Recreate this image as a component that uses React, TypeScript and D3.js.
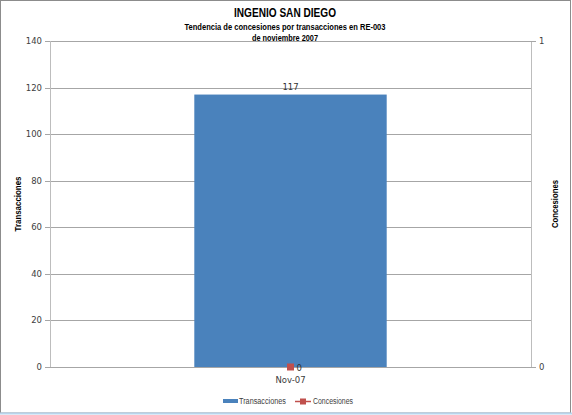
import React from 'react'
import { scaleBand, scaleLinear } from 'd3'

const categories = ['Nov-07']
const transacciones = [117]
const concesiones = [0]
const leftTicks = [0, 20, 40, 60, 80, 100, 120, 140]
const rightTicks = [0, 1]

const W = 572
const H = 415
const margin = { top: 41, right: 41, bottom: 48, left: 50 }

const narrow = '"Liberation Sans", Arial, sans-serif'
const sans = '"DejaVu Sans", Verdana, sans-serif'
const blue = '#4A82BC'
const red = '#C0504D'

// condensed text helper: the original uses a narrow face
const Narrow = (props: any) => (
  <text fontFamily={narrow} lengthAdjust="spacingAndGlyphs" {...props} />
)

export default function App() {
  const x0 = margin.left
  const x1 = W - margin.right
  const y0 = H - margin.bottom
  const y1 = margin.top

  const x = scaleBand<string>().domain(categories).range([x0, x1]).paddingInner(0.6).paddingOuter(0.3)
  const y = scaleLinear().domain([0, 140]).range([y0, y1])
  const yRight = scaleLinear().domain([0, 1]).range([y0, y1])

  return (
    <svg width={W} height={H} style={{ position: 'absolute', left: 0, top: 0, background: '#fff' }}>
      {/* outer frame */}
      <rect x={0.5} y={0.5} width={W - 2} height={H - 2.5} fill="#fff" stroke="#8c8c8c" />
      <line x1={0} x2={W} y1={H - 1.5} y2={H - 1.5} stroke="#b8d4ec" strokeWidth={2} />

      {/* titles */}
      <Narrow x={285} y={17} textAnchor="middle" fontWeight="bold" fontSize={13} fill="#000" textLength={102}>
        INGENIO  SAN DIEGO
      </Narrow>
      <Narrow x={285} y={30} textAnchor="middle" fontWeight="bold" fontSize={9.5} fill="#000" textLength={201}>
        Tendencia de concesiones  por transacciones en RE-003
      </Narrow>
      <Narrow x={285} y={41} textAnchor="middle" fontWeight="bold" fontSize={9.5} fill="#000" textLength={66}>
        de noviembre 2007
      </Narrow>

      {/* gridlines */}
      {leftTicks.filter(t => t > 0).map(t => (
        <line key={t} x1={x0} x2={x1} y1={Math.round(y(t)) + 0.5} y2={Math.round(y(t)) + 0.5} stroke="#a6a6a6" />
      ))}

      {/* bars */}
      {categories.map((c, i) => (
        <g key={c}>
          <rect x={x(c)} y={y(transacciones[i])} width={x.bandwidth()} height={y0 - y(transacciones[i])} fill={blue} />
          <text x={(x(c) ?? 0) + x.bandwidth() / 2} y={y(transacciones[i]) - 5} textAnchor="middle"
            fontFamily={sans} fontSize={8.5} fill="#333">{transacciones[i]}</text>
        </g>
      ))}

      {/* axes */}
      <line x1={x0 + 0.5} x2={x0 + 0.5} y1={y1} y2={y0} stroke="#bdbdbd" />
      <line x1={x1 + 0.5} x2={x1 + 0.5} y1={y1} y2={y0} stroke="#bdbdbd" />
      <line x1={x0} x2={x1} y1={y0 + 0.5} y2={y0 + 0.5} stroke="#a6a6a6" />
      {leftTicks.map(t => (
        <g key={t}>
          <line x1={x0 - 5} x2={x0} y1={Math.round(y(t)) + 0.5} y2={Math.round(y(t)) + 0.5} stroke="#a6a6a6" />
          <text x={x0 - 8} y={y(t) + 3} textAnchor="end" fontFamily={sans} fontSize={8.5} fill="#404040">{t}</text>
        </g>
      ))}
      {rightTicks.map(t => (
        <g key={t}>
          <line x1={x1} x2={x1 + 5} y1={Math.round(yRight(t)) + 0.5} y2={Math.round(yRight(t)) + 0.5} stroke="#a6a6a6" />
          <text x={x1 + 8} y={yRight(t) + 3} textAnchor="start" fontFamily={sans} fontSize={8.5} fill="#404040">{t}</text>
        </g>
      ))}

      {/* concesiones series (right axis) */}
      {categories.map((c, i) => {
        const cx = (x(c) ?? 0) + x.bandwidth() / 2
        const cy = yRight(concesiones[i])
        return (
          <g key={c}>
            <rect x={cx - 3.5} y={cy - 3.5} width={7} height={7} fill={red} />
            <text x={cx + 6} y={cy + 4} fontFamily={sans} fontSize={8.5} fill="#333">{concesiones[i]}</text>
            <text x={cx} y={y0 + 16} textAnchor="middle" fontFamily={sans} fontSize={8.5} fill="#404040">{c}</text>
          </g>
        )
      })}

      {/* axis titles */}
      <Narrow transform={`translate(21,${(y0 + y1) / 2}) rotate(-90)`} textAnchor="middle"
        fontWeight="bold" fontSize={9.5} fill="#000" textLength={55}>Transacciones</Narrow>
      <Narrow transform={`translate(558,${(y0 + y1) / 2}) rotate(-90)`} textAnchor="middle"
        fontWeight="bold" fontSize={9.5} fill="#000" textLength={48}>Concesiones</Narrow>

      {/* legend */}
      <rect x={223} y={399} width={15} height={4} fill={blue} />
      <Narrow x={239} y={404} fontSize={8.5} fill="#404040" textLength={47}>Transacciones</Narrow>
      <line x1={295} x2={311} y1={401.5} y2={401.5} stroke={red} strokeWidth={1.5} />
      <rect x={300} y={398.5} width={6} height={6} fill={red} />
      <Narrow x={313} y={404} fontSize={8.5} fill="#404040" textLength={40}>Concesiones</Narrow>
    </svg>
  )
}
